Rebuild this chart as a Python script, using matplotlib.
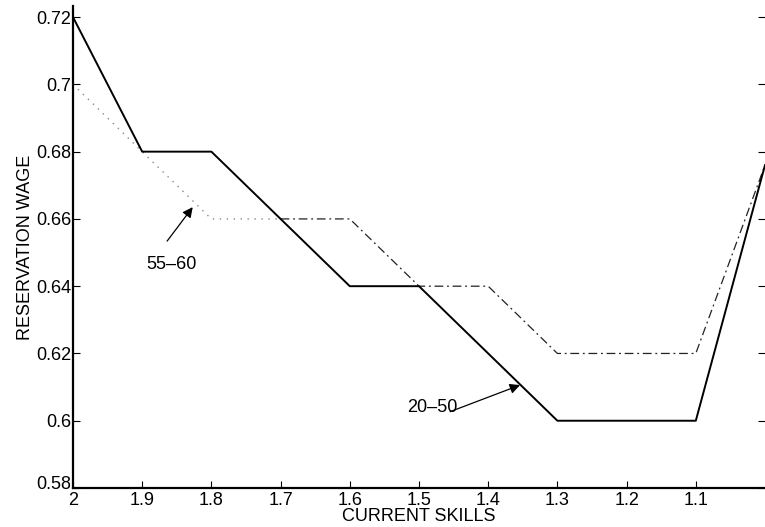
import matplotlib
matplotlib.use("Agg")
import matplotlib.pyplot as plt
from matplotlib.transforms import ScaledTranslation

plt.rcParams['font.family'] = ['Liberation Sans', 'DejaVu Sans']

skills = [2.0, 1.9, 1.8, 1.7, 1.6, 1.5, 1.4, 1.3, 1.2, 1.1, 1.0]
wage_20_50 = [0.72, 0.68, 0.68, 0.66, 0.64, 0.64, 0.62, 0.60, 0.60, 0.60, 0.676]
wage_55_60 = [0.70, 0.68, 0.66, 0.66, 0.66, 0.64, 0.64, 0.62, 0.62, 0.62, 0.676]
x_ticks = [2.0, 1.9, 1.8, 1.7, 1.6, 1.5, 1.4, 1.3, 1.2, 1.1]
x_ticklabels = ['2', '1.9', '1.8', '1.7', '1.6', '1.5', '1.4', '1.3', '1.2', '1.1']
y_ticks = [0.58, 0.60, 0.62, 0.64, 0.66, 0.68, 0.70, 0.72]
y_ticklabels = ['0.58', '0.6', '0.62', '0.64', '0.66', '0.68', '0.7', '0.72']

FS = 13

fig = plt.figure(figsize=(7.65, 5.27), dpi=100)
ax = fig.add_axes([0.0954, 0.074, 0.9046, 0.9146])

# older group: dotted at high skill levels, dash-dot from 1.7 onward
split = 3
ax.plot(skills[:split + 1], wage_55_60[:split + 1], color='#888888', lw=1.0,
        linestyle=(0, (1, 4)))
ax.plot(skills[split:], wage_55_60[split:], color='#222222', lw=0.9,
        linestyle=(0, (7, 3, 1.5, 3)))
ax.plot(skills, wage_20_50, color='black', lw=1.4)

ax.set_xlim(2.0, 1.0)
ax.set_ylim(0.58, 0.7233)
ax.set_xticks(x_ticks)
ax.set_xticklabels(x_ticklabels)
ax.set_yticks(y_ticks)
ax.set_yticklabels(y_ticklabels)
ax.tick_params(direction='in', length=5, width=0.8, labelsize=FS, pad=1,
               right=True, top=False)
ax.tick_params(axis='x', pad=3)

# lift the lowest y label so it clears the first x label
low = ax.get_yticklabels()[0]
low.set_transform(low.get_transform() + ScaledTranslation(0, 6 / 100, fig.dpi_scale_trans))

for side in ('top', 'right'):
    ax.spines[side].set_visible(False)
for side in ('left', 'bottom'):
    ax.spines[side].set_linewidth(1.6)

ax.set_xlabel('CURRENT SKILLS', fontsize=FS, labelpad=-1)
ax.set_ylabel('RESERVATION WAGE', fontsize=FS, labelpad=2)

arrow = dict(arrowstyle='-|>', color='black', lw=0.9, mutation_scale=15,
             shrinkA=0, shrinkB=0)
ax.annotate('', xy=(1.827, 0.6635), xytext=(1.864, 0.6534), arrowprops=arrow)
ax.text(1.857, 0.6463, '55–60', fontsize=FS, ha='center', va='center')
ax.annotate('', xy=(1.354, 0.6106), xytext=(1.455, 0.6027), arrowprops=arrow)
ax.text(1.481, 0.6038, '20–50', fontsize=FS, ha='center', va='center')

fig.savefig('out.png', dpi=100)
